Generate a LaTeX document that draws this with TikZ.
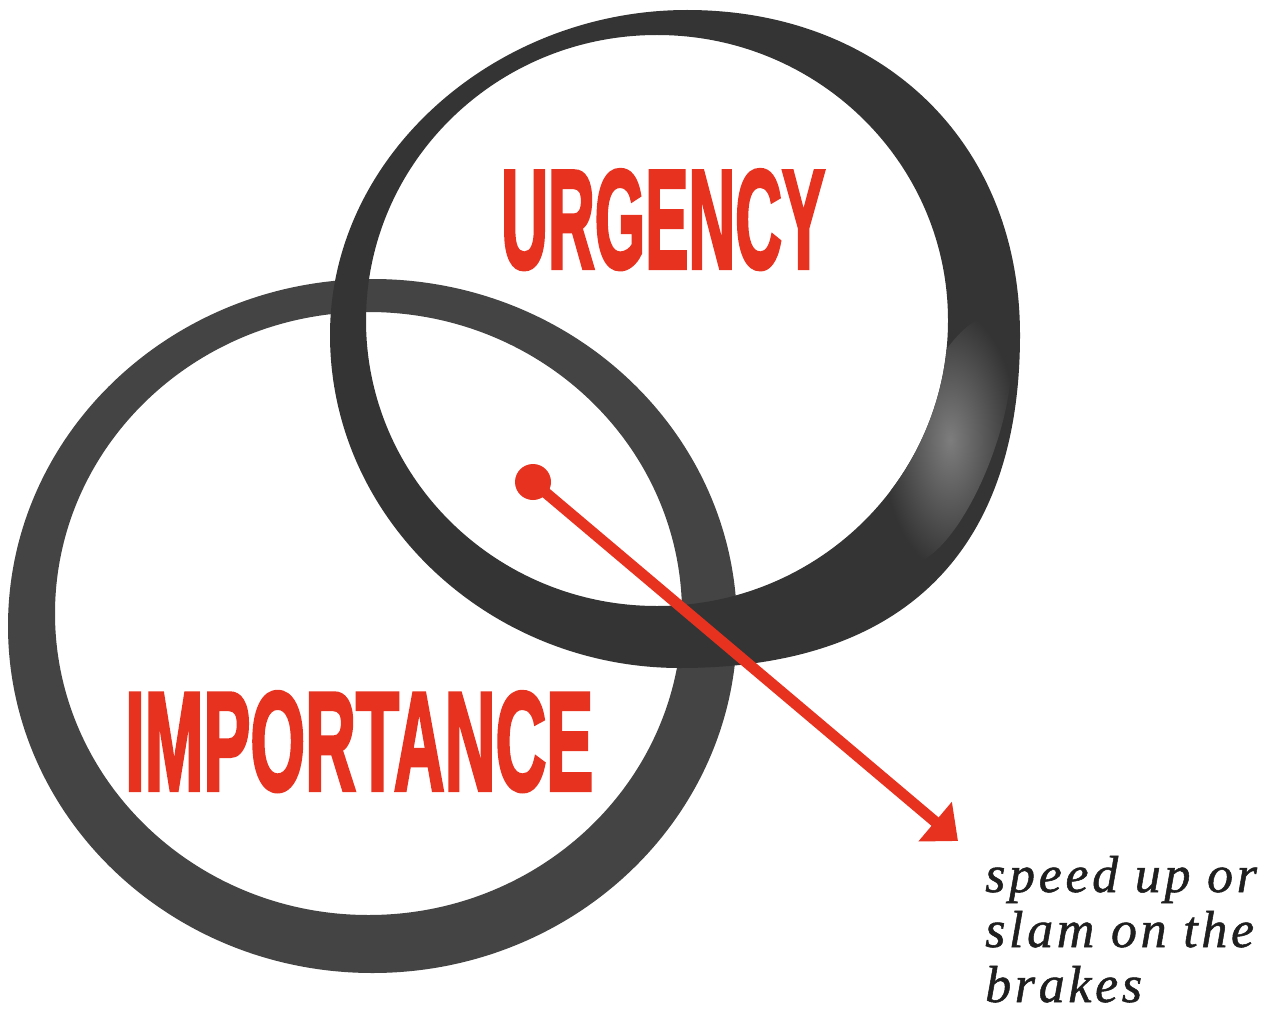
\documentclass[tikz,border=0pt]{standalone}
\usepackage{fontspec}
\setmainfont{Liberation Serif}
\newfontfamily\headfont{Liberation Sans}[FakeBold=3]
\newfontfamily\notefont{Liberation Serif}[LetterSpace=7, FakeBold=1]
\usetikzlibrary{arrows.meta}
\definecolor{redc}{RGB}{232,50,32}
\definecolor{ringA}{RGB}{52,52,52}
\definecolor{ringB}{RGB}{68,68,68}
\definecolor{ringL}{RGB}{125,125,125}
\tikzset{
  head/.style={inner sep=0pt, text=redc, font=\headfont\bfseries},
  note/.style={inner sep=0pt, anchor=base west, text=black!88, font=\notefont\itshape\fontsize{52}{56}\selectfont},
  pointer/.style={draw=redc, -{Triangle[length=30pt,width=50pt]}}
}
\def\upperouter{(687,10) .. controls (880,10) and (1020,140) .. (1020,335)
  .. controls (1020,545) and (910,668) .. (680,668)
  .. controls (490,668) and (330,520) .. (330,335)
  .. controls (330,154) and (497,10) .. (687,10) -- cycle}
\def\upperinner{(657,320.5) ellipse [x radius=291, y radius=285.5]}
\begin{document}
\begin{tikzpicture}[x=1pt,y=-1pt]
\useasboundingbox[fill=white] (0,0) rectangle (1271,1019);
% lower ring (importance)
\fill[ringB, even odd rule] (372.5,626) ellipse [x radius=364.5, y radius=347]
                            (368.5,613.5) ellipse [x radius=313.5, y radius=301.5];
% upper ring (urgency)
\fill[ringA, even odd rule] \upperouter \upperinner;
\begin{scope}[even odd rule]
  \clip \upperouter \upperinner;
  \shade[inner color=ringL, outer color=ringA, rotate around={-20:(950,440)}] (950,440) ellipse [x radius=45, y radius=130];
\end{scope}
% labels
\node[head, anchor=base west] (urg) at (501,268) {\resizebox{324pt}{98pt}{URGENCY}};
\node[head, anchor=base west] (imp) at (125,790) {\resizebox{468pt}{98pt}{IMPORTANCE}};
% pointer
\node[circle, fill=redc, minimum size=36pt, inner sep=0pt] (dot) at (533,482) {};
\coordinate (tip) at (958,841);
\draw[pointer, line width=11pt] (dot.center) -- (tip);
% note
\node[note] (note1) at (985,892) {speed up or};
\node[note] (note2) at (985,947) {slam on the};
\node[note] (note3) at (985,1002) {brakes};
\end{tikzpicture}
\end{document}
